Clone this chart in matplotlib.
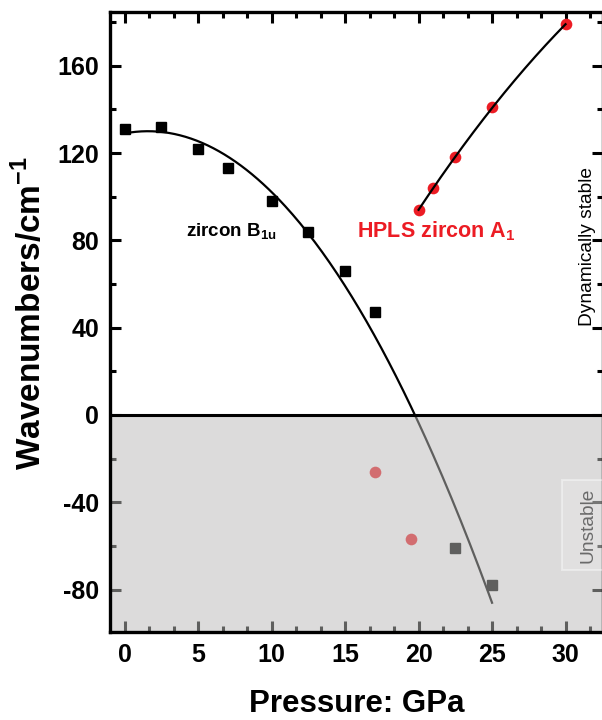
import numpy as np
import matplotlib
matplotlib.use("Agg")
import matplotlib.pyplot as plt
from matplotlib.ticker import MultipleLocator
from matplotlib.patches import Rectangle

plt.rcParams['font.family'] = ['Liberation Sans', 'DejaVu Sans']
plt.rcParams['axes.unicode_minus'] = False

# zircon B1u (black squares)
zircon_p = [0, 2.5, 5, 7, 10, 12.5, 15, 17, 22.5, 25]
zircon_w = [131, 132, 122, 113, 98, 84, 66, 47, -61, -78]

# HPLS zircon A1 (red circles)
hpls_p = [20, 21, 22.5, 25, 30]
hpls_w = [94, 104, 118, 141, 179]
# red circles in unstable region
hpls_unst_p = [17, 19.5]
hpls_unst_w = [-26, -57]

# fit curves (quadratic coefficients, highest power first) and ranges
zircon_fit = [-0.394, 1.25, 129.0]
zircon_fit_range = (0, 25)
hpls_fit = [-0.164, 16.7, -174.4]
hpls_fit_range = (20, 30)

red = '#ec1c24'

fig = plt.figure(figsize=(6.02, 7.2), dpi=100)
ax = fig.add_axes([110/602, 1-632/720, (603-110)/602, (632-12)/720])

xz = np.linspace(*zircon_fit_range, 200)
xh = np.linspace(*hpls_fit_range, 200)

ax.plot(zircon_p, zircon_w, 's', color='black', ms=7.6, zorder=2)
ax.plot(hpls_p, hpls_w, 'o', color=red, ms=8.4, mec='none', zorder=2)
ax.plot(hpls_unst_p, hpls_unst_w, 'o', color=red, ms=8.4, mec='none', zorder=2)
ax.plot(xz, np.polyval(zircon_fit, xz), color='black', lw=1.6, zorder=3)
ax.plot(xh, np.polyval(hpls_fit, xh), color='black', lw=1.6, zorder=3)

ax.set_xlim(-1.0, 32.55)
ax.set_ylim(-99.4, 184.6)

# translucent overlay for unstable region
ax.axhspan(-99.4, 0, color=(187/255, 186/255, 185/255), alpha=0.514, lw=0, zorder=4)
ax.axhline(0, color='black', lw=2.2, zorder=6)

ax.xaxis.set_major_locator(MultipleLocator(5))
ax.xaxis.set_minor_locator(MultipleLocator(5/3))
ax.yaxis.set_major_locator(MultipleLocator(40))
ax.yaxis.set_minor_locator(MultipleLocator(20))
ax.tick_params(which='both', direction='in', top=True, right=True, width=2.2)
ax.tick_params(which='major', length=8, labelsize=18, pad=8)
ax.tick_params(which='minor', length=4.5)
for lab in ax.get_xticklabels() + ax.get_yticklabels():
    lab.set_fontweight('bold')
for s in ax.spines.values():
    s.set_linewidth(2.4)
    s.set_zorder(7)

ax.set_xlabel('Pressure: GPa', fontsize=22.5, fontweight='bold', labelpad=16)
ax.set_ylabel('Wavenumbers/cm$^{\\mathregular{-1}}$', fontsize=24, fontweight='bold')
ax.yaxis.set_label_coords(-0.125, 0.515)

ax.text(4.15, 81.5, 'zircon B$_{\\mathregular{1u}}$', fontsize=13.5, fontweight='bold', color='black', zorder=8)
ax.text(15.8, 81.5, 'HPLS zircon A$_{\\mathregular{1}}$', fontsize=15.5, fontweight='bold', color=red, zorder=8)

ax.text(31.5, 77, 'Dynamically stable', rotation=90, fontsize=13.8, ha='center', va='center', zorder=8)

ax.add_patch(Rectangle((29.77, -71), 4.0, 41.2, facecolor=(1, 1, 1, 0.15),
                       edgecolor=(1, 1, 1, 0.4), lw=1.5, zorder=8))
ax.text(31.54, -50.4, 'Unstable', rotation=90, fontsize=13.8, ha='center', va='center',
        color='#6a6a6a', zorder=9)

fig.savefig('out.png', dpi=100)
